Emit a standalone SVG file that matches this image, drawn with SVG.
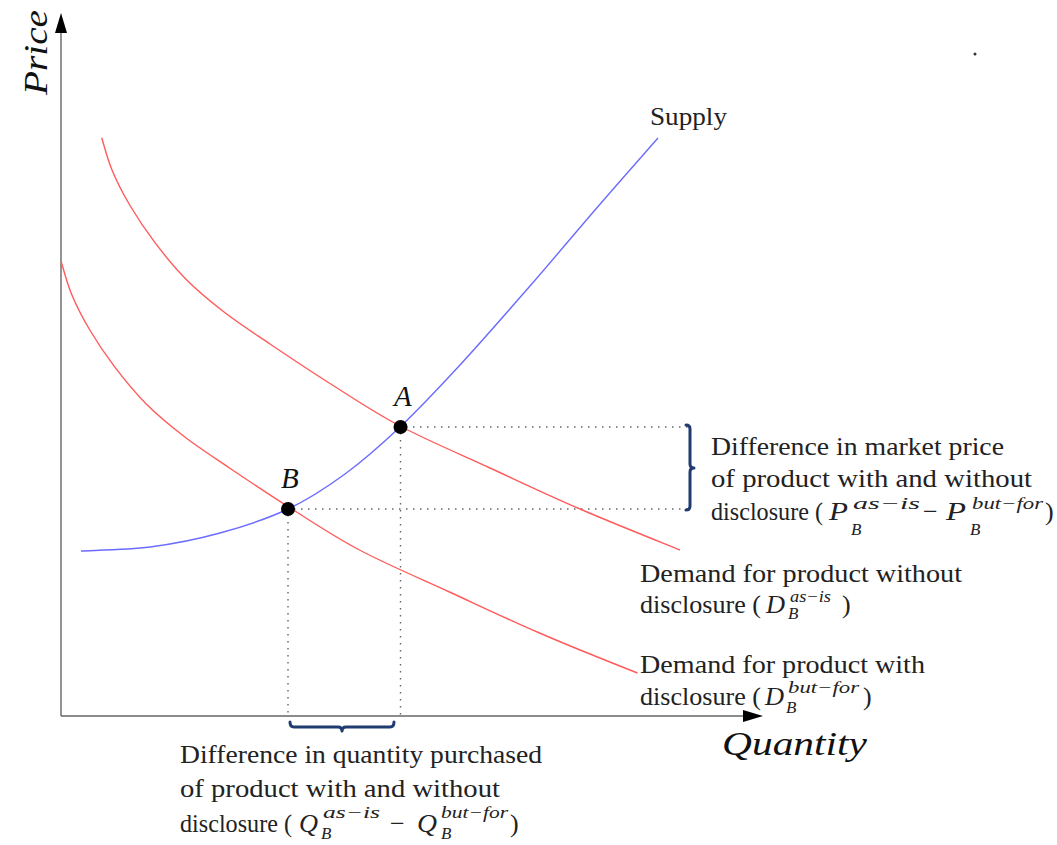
<svg xmlns="http://www.w3.org/2000/svg" width="1057" height="845" viewBox="0 0 1057 845">
<style>
.t{font-family:"Liberation Serif","DejaVu Serif",serif;font-size:26px;fill:#222}
.i{font-family:"Liberation Serif","DejaVu Serif",serif;font-style:italic;fill:#111}
.m{font-family:"Liberation Serif","DejaVu Serif",serif;font-style:italic;font-size:26px;fill:#222}
.s{font-family:"Liberation Serif","DejaVu Serif",serif;font-style:italic;font-size:17px;fill:#222}
.ax{stroke:#666;stroke-width:1.4;fill:none}
.dot{stroke:#666;stroke-width:1.4;stroke-dasharray:1.5 5.5;fill:none}
.red{stroke:#ff5b5b;stroke-width:1.4;fill:none}
.blue{stroke:#6b6bff;stroke-width:1.4;fill:none}
.br{stroke:#1f3b6f;stroke-width:3;fill:none;stroke-linejoin:round;stroke-linecap:round}
</style>
<rect width="1057" height="845" fill="#fff"/>
<g id="axes">
<line class="ax" x1="61" y1="716" x2="61" y2="30"/>
<polygon points="61,13 55,33 67,33" fill="#000"/>
<line class="ax" x1="61" y1="716" x2="746" y2="716"/>
<polygon points="763,716 743,710 743,722" fill="#000"/>
<text class="i" font-size="33" transform="translate(47,95) rotate(-90)" textLength="85" lengthAdjust="spacingAndGlyphs">Price</text>
<text class="i" font-size="33" x="722" y="755" textLength="145" lengthAdjust="spacingAndGlyphs">Quantity</text>
</g>
<g id="guides">
<line class="dot" x1="406" y1="427" x2="688" y2="427"/>
<line class="dot" x1="294" y1="509" x2="688" y2="509"/>
<line class="dot" x1="400.5" y1="433" x2="400.5" y2="716"/>
<line class="dot" x1="288" y1="515" x2="288" y2="716"/>
</g>
<g id="curves">
<path id="demand-as-is" class="red" d="M101.7,137.7 C103.4,143.1 107.3,158.7 112,170 C116.7,181.3 122.8,193.4 130,205.5 C137.2,217.6 145.5,230.2 155,242.7 C164.5,255.2 175.3,268.6 187,280.3 C198.7,292 211.2,302.2 225,312.8 C238.8,323.4 252.5,332.2 270,344 C287.5,355.8 308.3,369.8 330,383.5 C351.7,397.2 373.3,411.9 400,426 C426.7,440.1 460,454.2 490,468 C520,481.8 548.3,495.3 580,509 C611.7,522.7 663.3,543.2 680,550"/>
<path id="demand-but-for" class="red" transform="translate(-40.5,124)" d="M101.7,137.7 C103.4,143.1 107.3,158.7 112,170 C116.7,181.3 122.8,193.4 130,205.5 C137.2,217.6 145.5,230.2 155,242.7 C164.5,255.2 175.3,268.6 187,280.3 C198.7,292 211.2,302.2 225,312.8 C238.8,323.4 252.5,332.2 270,344 C287.5,355.8 308.3,369.8 330,383.5 C351.7,397.2 373.3,411.9 400,426 C426.7,440.1 460,454.2 490,468 C520,481.8 548.3,495.3 580,509 C611.7,522.7 663.3,543.2 678,549"/>
<path id="supply" class="blue" d="M81,551 C92.5,550.3 126.8,550 150,547 C173.2,544 197,539.3 220,533 C243,526.7 267.2,518.8 288,509 C308.8,499.2 326.3,487.7 345,474 C363.7,460.3 380.8,445.2 400,427 C419.2,408.8 438.3,388.5 460,365 C481.7,341.5 507.5,311.8 530,286 C552.5,260.2 573.7,234.7 595,210 C616.3,185.3 647.5,150 658,138"/>
</g>
<g id="point-A">
<circle cx="400.5" cy="427" r="7" fill="#000"/>
<text class="i" font-size="29" x="394" y="406">A</text>
</g>
<g id="point-B">
<circle cx="288" cy="509" r="7" fill="#000"/>
<text class="i" font-size="29" x="281" y="488">B</text>
</g>
<g id="label-supply">
<text class="t" font-size="22" x="650" y="125" textLength="77" lengthAdjust="spacingAndGlyphs">Supply</text>
</g>
<g id="label-price-diff">
<path class="br" d="M686,425 Q690,425 690,429 L690,464 Q690,468 694,468 Q690,468 690,472 L690,506 Q690,510 686,510"/>
<text class="t" x="711" y="455" textLength="293" lengthAdjust="spacingAndGlyphs">Difference in market price</text>
<text class="t" x="711" y="487" textLength="321" lengthAdjust="spacingAndGlyphs">of product with and without</text>
<text class="t" x="711" y="520" textLength="112" lengthAdjust="spacingAndGlyphs">disclosure (</text>
<text class="m" x="829" y="520" textLength="19" lengthAdjust="spacingAndGlyphs">P</text>
<text class="s" x="853" y="509" textLength="67" lengthAdjust="spacingAndGlyphs">as−is</text>
<text class="s" x="851" y="535">B</text>
<text class="t" x="923" y="520">−</text>
<text class="m" x="946" y="520" textLength="20" lengthAdjust="spacingAndGlyphs">P</text>
<text class="s" x="972" y="509" textLength="71" lengthAdjust="spacingAndGlyphs">but−for</text>
<text class="s" x="970" y="535">B</text>
<text class="t" x="1045" y="520">)</text>
</g>
<g id="label-demand-as-is">
<text class="t" x="640" y="582" textLength="322" lengthAdjust="spacingAndGlyphs">Demand for product without</text>
<text class="t" x="640" y="613" textLength="121" lengthAdjust="spacingAndGlyphs">disclosure (</text>
<text class="m" x="766" y="613" textLength="19" lengthAdjust="spacingAndGlyphs">D</text>
<text class="s" x="790" y="602" textLength="41" lengthAdjust="spacingAndGlyphs">as−is</text>
<text class="s" x="788" y="619">B</text>
<text class="t" x="842" y="613">)</text>
</g>
<g id="label-demand-but-for">
<text class="t" x="640" y="673" textLength="285" lengthAdjust="spacingAndGlyphs">Demand for product with</text>
<text class="t" x="640" y="705" textLength="121" lengthAdjust="spacingAndGlyphs">disclosure (</text>
<text class="m" x="765" y="705" textLength="19" lengthAdjust="spacingAndGlyphs">D</text>
<text class="s" x="788" y="693" textLength="71" lengthAdjust="spacingAndGlyphs">but−for</text>
<text class="s" x="786" y="713">B</text>
<text class="t" x="863" y="705">)</text>
</g>
<g id="label-quantity-diff">
<path class="br" d="M290,722 Q290,727 294,727 L338,727 Q342,727 342,731 Q342,727 346,727 L390,727 Q394,727 394,722"/>
<text class="t" x="180" y="763" textLength="362" lengthAdjust="spacingAndGlyphs">Difference in quantity purchased</text>
<text class="t" x="180" y="797" textLength="320" lengthAdjust="spacingAndGlyphs">of product with and without</text>
<text class="t" x="180" y="832" textLength="112" lengthAdjust="spacingAndGlyphs">disclosure (</text>
<text class="m" x="299" y="832" textLength="19" lengthAdjust="spacingAndGlyphs">Q</text>
<text class="s" x="323" y="818" textLength="57" lengthAdjust="spacingAndGlyphs">as−is</text>
<text class="s" x="321" y="839">B</text>
<text class="t" x="390" y="832">−</text>
<text class="m" x="417" y="832" textLength="20" lengthAdjust="spacingAndGlyphs">Q</text>
<text class="s" x="441" y="818" textLength="67" lengthAdjust="spacingAndGlyphs">but−for</text>
<text class="s" x="441" y="839">B</text>
<text class="t" x="510" y="832">)</text>
</g>
<circle cx="975" cy="54" r="1.5" fill="#333"/>
</svg>
